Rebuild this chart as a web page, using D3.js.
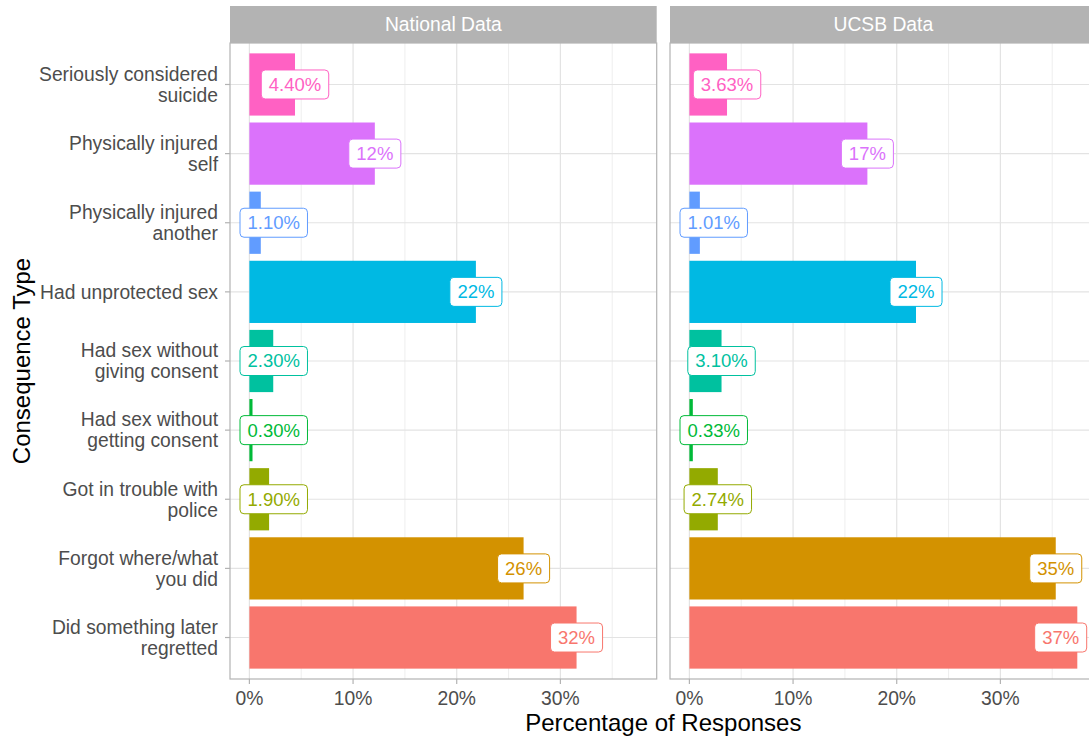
<!DOCTYPE html>
<html>
<head>
<meta charset="utf-8">
<script src="https://cdn.jsdelivr.net/npm/d3@7"></script>
<style>
  body { margin: 0; background: #fff; }
  svg { font-family: "Liberation Sans", Arial, sans-serif; display: block; }
</style>
</head>
<body>
<div id="chart"></div>
<script>
(function() {
    var width = 1089,
        height = 740;

    // data (top to bottom)
    var categories = [
        "Seriously considered\nsuicide",
        "Physically injured\nself",
        "Physically injured\nanother",
        "Had unprotected sex",
        "Had sex without\ngiving consent",
        "Had sex without\ngetting consent",
        "Got in trouble with\npolice",
        "Forgot where/what\nyou did",
        "Did something later\nregretted"
    ];
    var colors = ["#FF61C3", "#DB72FB", "#619CFF", "#00B9E3", "#00C19F",
                  "#00BA38", "#93AA00", "#D39200", "#F8766D"];
    var facets = ["National Data", "UCSB Data"];
    var nationalValues = [4.40, 12.1, 1.10, 21.85, 2.30, 0.30, 1.90, 26.45, 31.56];
    var nationalLabels = ["4.40%", "12%", "1.10%", "22%", "2.30%", "0.30%", "1.90%", "26%", "32%"];
    var ucsbValues = [3.63, 17.17, 1.01, 21.86, 3.10, 0.33, 2.74, 35.34, 37.42];
    var ucsbLabels = ["3.63%", "17%", "1.01%", "22%", "3.10%", "0.33%", "2.74%", "35%", "37%"];
    var xTicks = [0, 10, 20, 30];
    var xMinor = [5, 15, 25, 35];

    var panelValues = [nationalValues, ucsbValues];
    var panelLabels = [nationalLabels, ucsbLabels];

    var panelTop = 43,
        panelBottom = 679,
        panelW = 426.7,
        panelLefts = [230, 670],
        stripH = 37;

    var svg = d3.select("#chart")
        .append("svg")
        .attr("width", width)
        .attr("height", height)

    var maxV = d3.max(nationalValues.concat(ucsbValues))
    var x = d3.scaleLinear()
        .domain([-0.05 * maxV, maxV * 1.05])
        .range([0, panelW])

    var y = d3.scaleBand()
        .domain(categories)
        .range([panelTop, panelBottom])
        .paddingInner(0.1)
        .paddingOuter(0.15)

    facets.forEach(function(name, p) {
        var g = svg.append("g")
            .attr("transform", "translate(" + panelLefts[p] + ",0)")

        // strip
        g.append("rect")
            .attr("x", 0).attr("y", panelTop - stripH)
            .attr("width", panelW).attr("height", stripH)
            .attr("fill", "#B3B3B3")
        g.append("text")
            .attr("x", panelW / 2).attr("y", panelTop - stripH / 2)
            .attr("dy", "0.35em")
            .attr("text-anchor", "middle")
            .attr("fill", "#fff")
            .style("font-size", "19.3px")
            .text(name)

        // grid
        g.selectAll(".minor").data(xMinor).enter().append("line")
            .attr("x1", function(d) { return x(d) }).attr("x2", function(d) { return x(d) })
            .attr("y1", panelTop).attr("y2", panelBottom)
            .attr("stroke", "#E6E6E6").attr("stroke-width", 0.7)
        g.selectAll(".major").data(xTicks).enter().append("line")
            .attr("x1", function(d) { return x(d) }).attr("x2", function(d) { return x(d) })
            .attr("y1", panelTop).attr("y2", panelBottom)
            .attr("stroke", "#E3E3E3").attr("stroke-width", 1.2)
        g.selectAll(".hgrid").data(categories).enter().append("line")
            .attr("x1", 0).attr("x2", panelW)
            .attr("y1", function(d) { return y(d) + y.bandwidth() / 2 })
            .attr("y2", function(d) { return y(d) + y.bandwidth() / 2 })
            .attr("stroke", "#E3E3E3").attr("stroke-width", 1.2)

        // bars
        g.selectAll(".bar").data(categories).enter().append("rect")
            .attr("x", x(0))
            .attr("y", function(d) { return y(d) })
            .attr("width", function(d, i) { return x(panelValues[p][i]) - x(0) })
            .attr("height", y.bandwidth())
            .attr("fill", function(d, i) { return colors[i] })

        // labels
        var labs = g.selectAll(".lab").data(categories).enter().append("g")
        labs.each(function(d, i) {
            var lg = d3.select(this)
            var t = lg.append("text")
                .attr("text-anchor", "middle")
                .attr("dy", "0.35em")
                .attr("fill", colors[i])
                .style("font-size", "18.5px")
                .text(panelLabels[p][i])
            var w = t.node().getComputedTextLength() + 15,
                h = 29
            var cx = x(panelValues[p][i])
            cx = Math.max(cx, 10 + w / 2)
            cx = Math.min(cx, panelW - 10 - w / 2)
            var cy = y(d) + y.bandwidth() / 2
            lg.insert("rect", "text")
                .attr("x", cx - w / 2).attr("y", cy - h / 2)
                .attr("width", w).attr("height", h)
                .attr("rx", 4).attr("ry", 4)
                .attr("fill", "#fff")
                .attr("stroke", colors[i])
                .attr("stroke-width", 1)
            t.attr("x", cx).attr("y", cy)
        })

        // border
        g.append("rect")
            .attr("x", 0).attr("y", panelTop)
            .attr("width", panelW).attr("height", panelBottom - panelTop)
            .attr("fill", "none")
            .attr("stroke", "#B3B3B3").attr("stroke-width", 1.2)

        // x axis
        g.selectAll(".xt").data(xTicks).enter().append("line")
            .attr("x1", function(d) { return x(d) }).attr("x2", function(d) { return x(d) })
            .attr("y1", panelBottom).attr("y2", panelBottom + 5)
            .attr("stroke", "#B3B3B3").attr("stroke-width", 1.2)
        g.selectAll(".xl").data(xTicks).enter().append("text")
            .attr("x", function(d) { return x(d) })
            .attr("y", 705)
            .attr("text-anchor", "middle")
            .attr("fill", "#4D4D4D")
            .style("font-size", "19.3px")
            .text(function(d) { return d + "%" })
    })

    // y axis (left panel only)
    svg.selectAll(".yt").data(categories).enter().append("line")
        .attr("x1", panelLefts[0] - 5).attr("x2", panelLefts[0])
        .attr("y1", function(d) { return y(d) + y.bandwidth() / 2 })
        .attr("y2", function(d) { return y(d) + y.bandwidth() / 2 })
        .attr("stroke", "#B3B3B3").attr("stroke-width", 1.2)

    svg.selectAll(".yl").data(categories).enter().append("text")
        .attr("text-anchor", "end")
        .attr("fill", "#4D4D4D")
        .style("font-size", "19.3px")
        .each(function(d) {
            var lines = d.split("\n")
            var cy = y(d) + y.bandwidth() / 2
            var t = d3.select(this)
            lines.forEach(function(line, k) {
                t.append("tspan")
                    .attr("x", 218)
                    .attr("y", cy + (k - (lines.length - 1) / 2) * 21)
                    .attr("dy", "0.35em")
                    .text(line)
            })
        })

    // axis titles
    svg.append("text")
        .attr("x", (panelLefts[0] + panelLefts[1] + panelW) / 2)
        .attr("y", 731)
        .attr("text-anchor", "middle")
        .attr("fill", "#000")
        .style("font-size", "24px")
        .text("Percentage of Responses")

    svg.append("text")
        .attr("transform", "translate(30," + (panelTop + panelBottom) / 2 + ") rotate(-90)")
        .attr("text-anchor", "middle")
        .attr("fill", "#000")
        .style("font-size", "24px")
        .text("Consequence Type")
})();
</script>
</body>
</html>
